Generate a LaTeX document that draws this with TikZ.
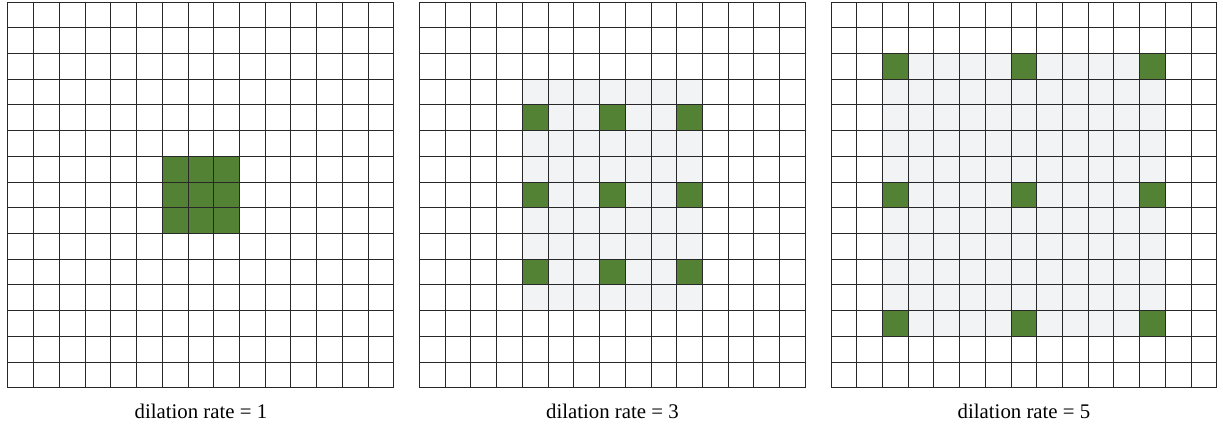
\documentclass[tikz,border=0pt]{standalone}
\usepackage{fontspec}
\setmainfont{Liberation Serif}
\usetikzlibrary{positioning}
\definecolor{cG}{RGB}{84,130,53}
\definecolor{cL}{RGB}{242,243,245}
\definecolor{cLine}{RGB}{40,40,40}

\begin{document}
\begin{tikzpicture}[x=12.86pt, y=-12.86pt,
    gridline/.style={draw=cLine, line width=0.5pt},
    tap/.style={fill=cG},
    field/.style={fill=cL},
    caption/.style={font=\fontsize{10.4}{12}\selectfont}]
    \useasboundingbox (0,0) rectangle (47.55,16.56);

    % dilation rate 1
    \begin{scope}[shift={(0.311,0.078)}]
        \foreach \i in {6,7,8}
            \foreach \j in {6,7,8}
                \fill[tap] (\i,\j) rectangle ++(1,1);
        \foreach \k in {0,...,15} {
            \draw[gridline] (\k,0) -- (\k,15);
            \draw[gridline] (0,\k) -- (15,\k);
        }
        \node[caption] (cap1) at (7.5,15.9) {dilation rate = 1};
    \end{scope}

    % dilation rate 3
    \begin{scope}[shift={(16.311,0.078)}]
        \fill[field] (4,3) rectangle (11,12);
        \foreach \i in {4,7,10}
            \foreach \j in {4,7,10}
                \fill[tap] (\i,\j) rectangle ++(1,1);
        \foreach \k in {0,...,15} {
            \draw[gridline] (\k,0) -- (\k,15);
            \draw[gridline] (0,\k) -- (15,\k);
        }
        \node[caption] (cap3) at (7.5,15.9) {dilation rate = 3};
    \end{scope}

    % dilation rate 5
    \begin{scope}[shift={(32.311,0.078)}]
        \fill[field] (2,2) rectangle (13,13);
        \foreach \i in {2,7,12}
            \foreach \j in {2,7,12}
                \fill[tap] (\i,\j) rectangle ++(1,1);
        \foreach \k in {0,...,15} {
            \draw[gridline] (\k,0) -- (\k,15);
            \draw[gridline] (0,\k) -- (15,\k);
        }
        \node[caption] (cap5) at (7.5,15.9) {dilation rate = 5};
    \end{scope}
\end{tikzpicture}
\end{document}
